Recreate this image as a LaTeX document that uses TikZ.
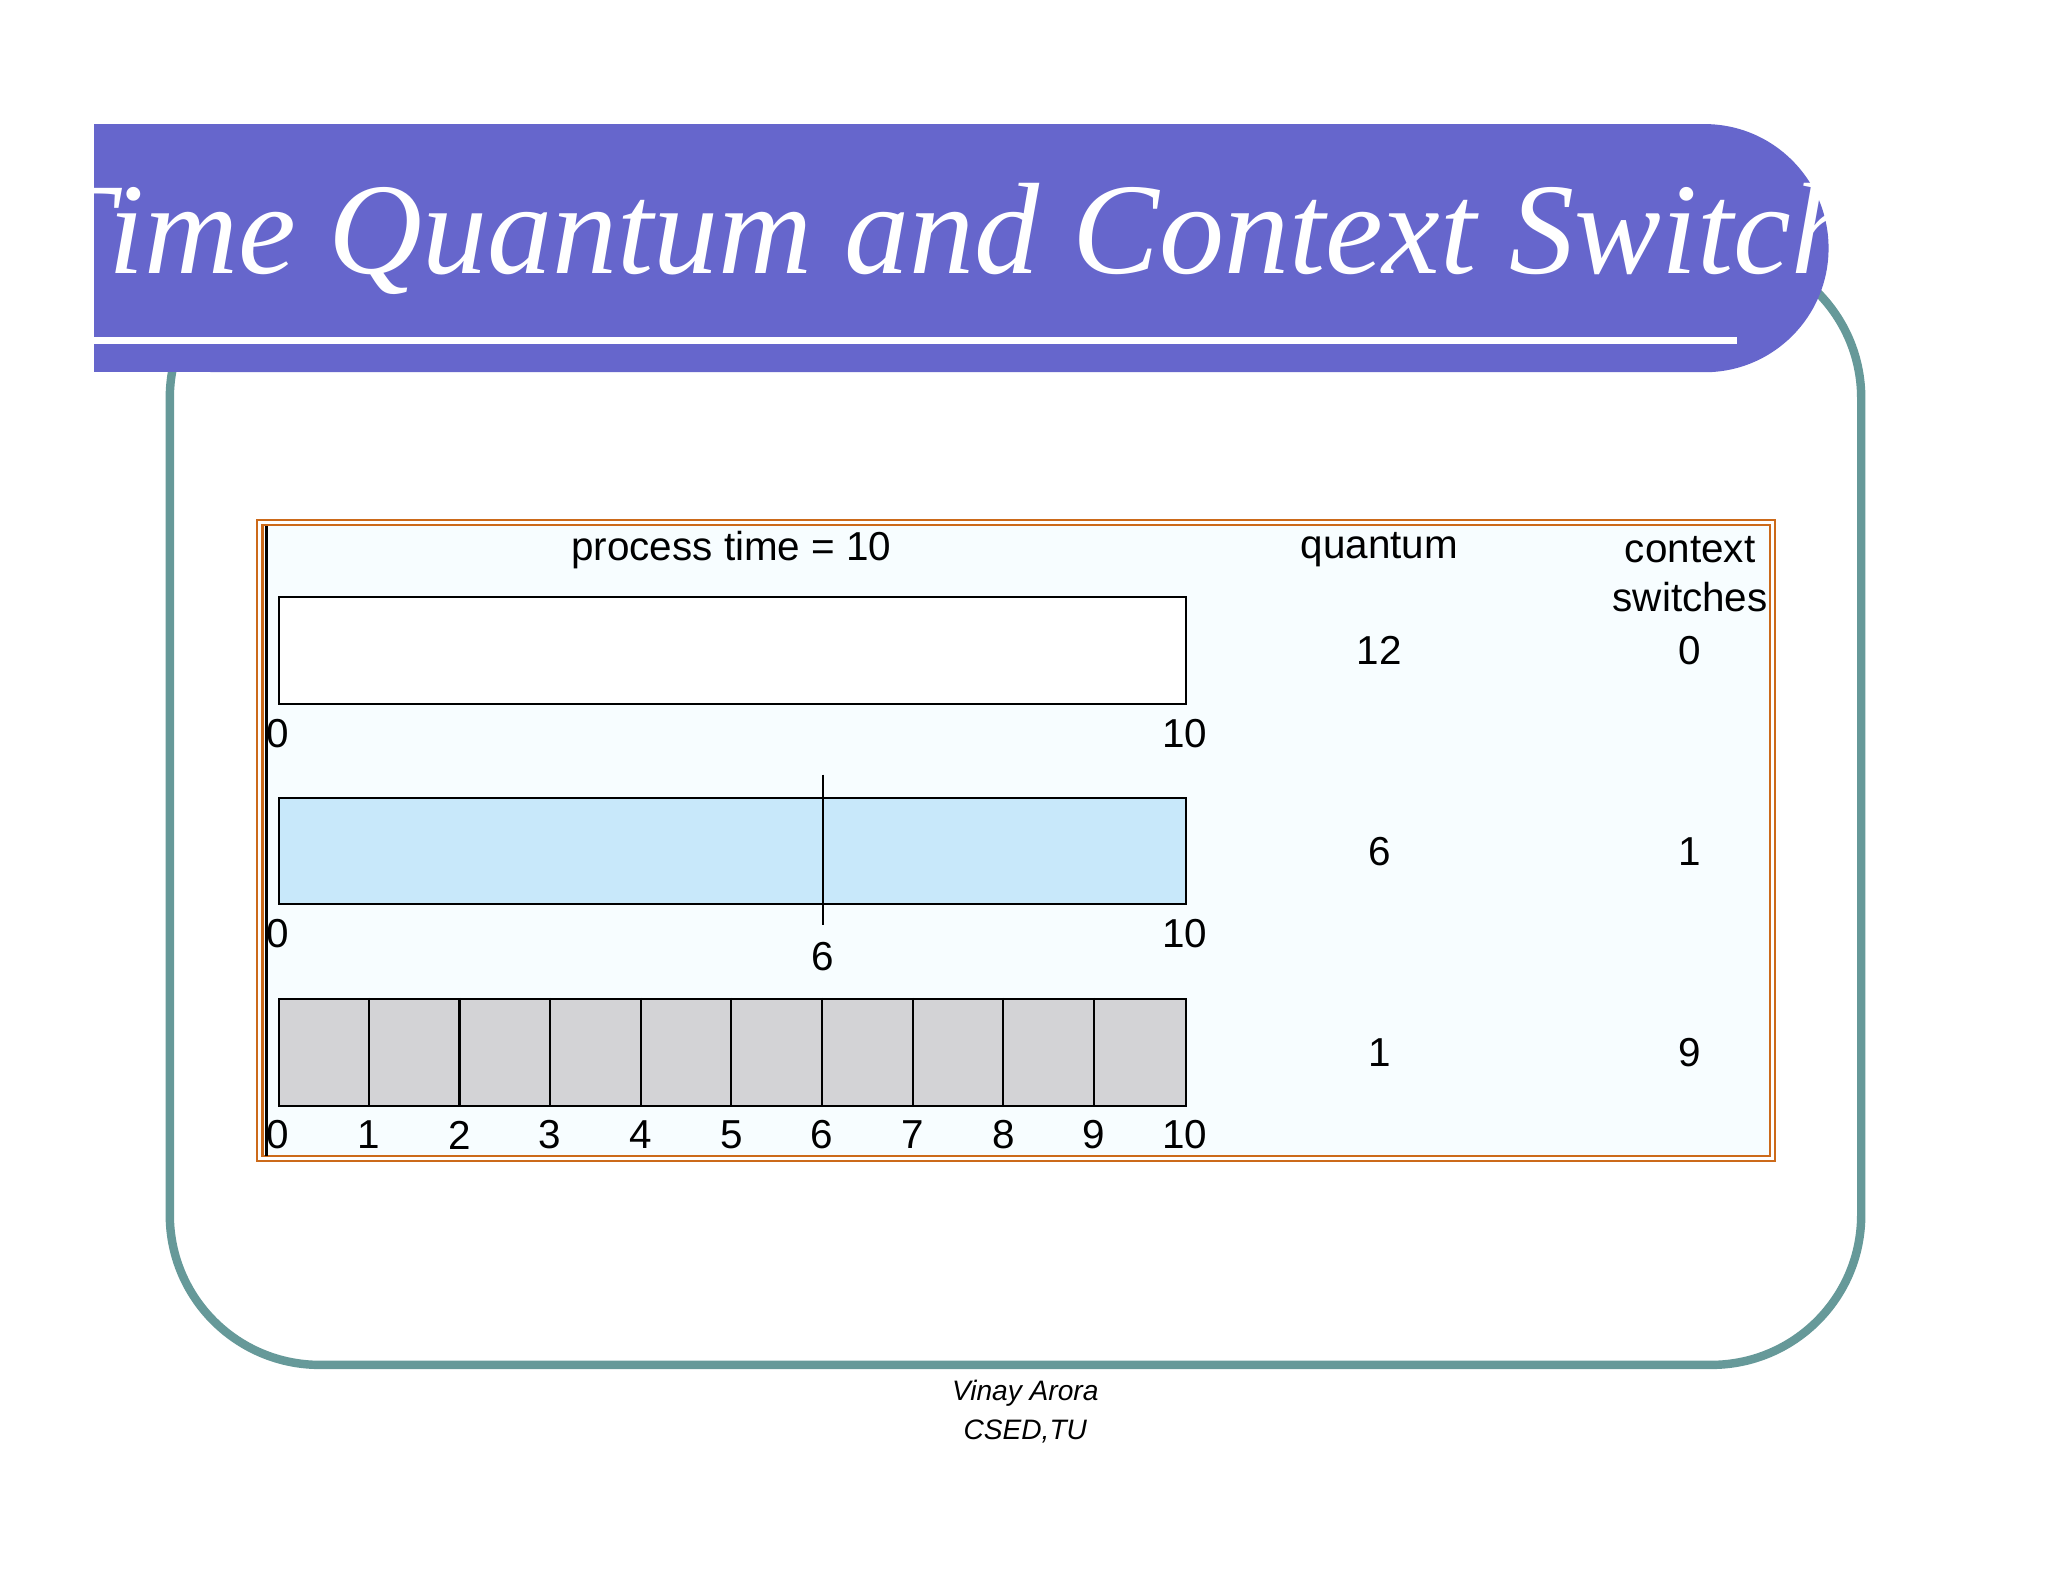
\documentclass[tikz,border=0pt]{standalone}
\usepackage{fontspec}
\setmainfont{Liberation Serif}
\setsansfont{Liberation Sans}
\definecolor{teal}{HTML}{669999}
\definecolor{ban}{HTML}{6666CC}
\definecolor{org}{HTML}{CC6A1A}
\definecolor{lblue}{HTML}{C8E8FA}
\definecolor{lgray}{HTML}{D3D3D6}
\begin{document}
\begin{tikzpicture}[x=0.01306cm,y=-0.01306cm,
  lbl/.style={font=\sffamily\fontsize{11.5}{13}\selectfont,inner sep=0pt,anchor=center},
  bar/.style={draw=black,line width=0.6pt}]
\useasboundingbox (0,0) rectangle (1568,1210);
\fill[white] (0,0) rectangle (1568,1210);
% teal frame
\draw[teal,line width=2.4pt,rounded corners=1.5cm] (130,190) rectangle (1425,1045);
% banner
\fill[ban,rounded corners=1.24cm] (72,95) rectangle (1400,285);
\fill[ban] (72,95) rectangle (300,285);
\fill[white] (72,258) rectangle (1330,263);
\node[text=white,font=\itshape\fontsize{37}{40}\selectfont,inner sep=0pt] (title) at (727,183) {Time Quantum and Context Switch};
% orange double frame
\fill[white!97!cyan] (200,401) rectangle (1356,886);
\draw[org,line width=0.6pt] (197,398) rectangle (1359,889);
\draw[org,line width=0.6pt] (201,402) rectangle (1355,885);
\draw[black,line width=0.8pt] (204,403) -- (204,885);
% bars
\node[bar,fill=white,minimum width=694*0.01306cm,minimum height=82*0.01306cm,anchor=north west,inner sep=0pt] (b1) at (213,456) {};
\node[bar,fill=lblue,minimum width=694*0.01306cm,minimum height=81*0.01306cm,anchor=north west,inner sep=0pt] (b2) at (213,610) {};
\node[bar,fill=lgray,minimum width=694*0.01306cm,minimum height=82*0.01306cm,anchor=north west,inner sep=0pt] (b3) at (213,764) {};
\coordinate (t1) at (630,593); \coordinate (t2) at (630,708);
\draw[line width=0.6pt] (t1) -- (t2);
\foreach \i in {1,...,9} \draw[line width=0.6pt] (213+69.4*\i,764) -- (213+69.4*\i,846);
% labels
\node[lbl] (pt) at (560,421) {process time = 10};
\node[lbl] (q) at (1056,421) {quantum};
\node[lbl] (cs) at (1294,421) {context};
\node[lbl] (cs2) at (1294,457) {switches};
\node[lbl] (q1) at (1056,498) {12}; \node[lbl] (c1) at (1294,498) {0};
\node[lbl] (q2) at (1056,652) {6}; \node[lbl] (c2) at (1294,652) {1};
\node[lbl] (q3) at (1056,806) {1}; \node[lbl] (c3) at (1294,806) {9};
\node[lbl] (a0) at (213,562) {0}; \node[lbl] (a10) at (907,562) {10};
\node[lbl] (m0) at (213,715) {0}; \node[lbl] (m10) at (907,715) {10};
\node[lbl] (m6) at (630,732) {6};
\foreach \i in {0,...,10} \node[lbl] (n\i) at (213+69.4*\i,869) {\i};
% footer
\node[font=\sffamily\itshape\fontsize{8}{9}\selectfont,inner sep=0pt] (f1) at (785,1067) {Vinay Arora};
\node[font=\sffamily\itshape\fontsize{8}{9}\selectfont,inner sep=0pt] (f2) at (785,1096) {CSED,TU};
\end{tikzpicture}
\end{document}
